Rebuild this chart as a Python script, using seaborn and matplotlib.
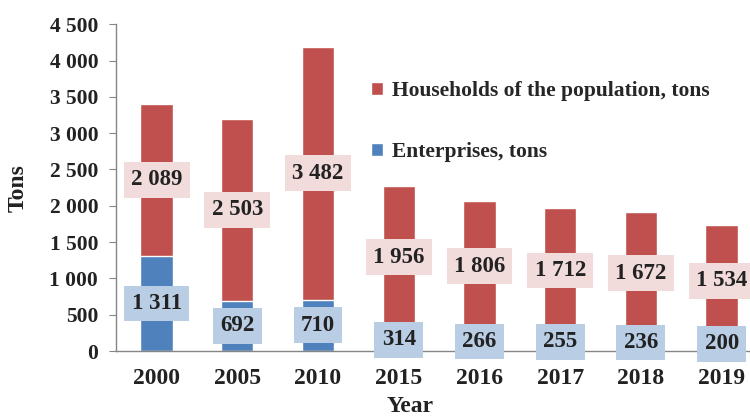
import pandas as pd
import seaborn as sns
import matplotlib.pyplot as plt

# data
years = ['2000', '2005', '2010', '2015', '2016', '2017', '2018', '2019']
enterprises = [1311, 692, 710, 314, 266, 255, 236, 200]
households = [2089, 2503, 3482, 1956, 1806, 1712, 1672, 1534]
yticks = [0, 500, 1000, 1500, 2000, 2500, 3000, 3500, 4000, 4500]

red = '#C0504D'
blue = '#4F81BD'

sns.set_style("white")
plt.rcParams['font.family'] = ['Liberation Serif', 'DejaVu Serif']
plt.rcParams['font.weight'] = 'bold'

df = pd.DataFrame({'Year': years, 'Enterprises': enterprises, 'Households': households})
df['Total'] = df['Enterprises'] + df['Households']

fig = plt.figure(figsize=(7.5, 4.17), dpi=100)
ax = fig.add_axes([0.155, 0.158, 0.861, 0.784])

sns.barplot(data=df, x='Year', y='Total', color=red, width=0.40, saturation=1,
            label='Households of the population, tons', ax=ax)
sns.barplot(data=df, x='Year', y='Enterprises', color=blue, width=0.40, saturation=1,
            label='Enterprises, tons', ax=ax)

def fmt(v):
    return f"{v:,}".replace(',', ' ')

for i, row in df.iterrows():
    ax.text(i, row['Enterprises'] / 2, fmt(row['Enterprises']), ha='center', va='center',
            fontsize=16.5, fontweight='bold', color='#222222',
            bbox=dict(boxstyle='square,pad=0.32', fc='#B9CDE5', ec='none'))
    ax.text(i, row['Enterprises'] + row['Households'] / 2, fmt(row['Households']),
            ha='center', va='center', fontsize=16.5, fontweight='bold', color='#222222',
            bbox=dict(boxstyle='square,pad=0.32', fc='#F2DCDB', ec='none'))

ax.set_ylim(0, 4500)
ax.set_xlim(-0.5, 7.5)
ax.set_yticks(yticks)
ax.set_yticklabels([fmt(v) for v in yticks], fontsize=15.5, fontweight='bold', color='#222222')
ax.tick_params(axis='x', which='major', length=0, labelsize=17, pad=12, colors='#222222')
ax.set_xticks([i + 0.5 for i in range(-1, 8)], minor=True)
ax.tick_params(axis='x', which='minor', length=5, color='#868686', direction='out')
ax.tick_params(axis='y', length=5, color='#868686', direction='out', left=True, pad=8)
for lab in ax.get_xticklabels():
    lab.set_fontweight('bold')

ax.set_ylabel('Tons', fontsize=17, fontweight='bold', color='#222222')
ax.set_xlabel('Year', fontsize=17, fontweight='bold', color='#222222')
ax.yaxis.set_label_coords(-0.135, 0.5)
ax.xaxis.set_label_coords(0.455, -0.136)

sns.despine(ax=ax)
for s in ['left', 'bottom']:
    ax.spines[s].set_color('#868686')
    ax.spines[s].set_linewidth(1)

handles, labels = ax.get_legend_handles_labels()
ax.legend(handles, labels, loc='upper left', bbox_to_anchor=(0.365, 0.885), frameon=False,
          handlelength=0.55, handleheight=0.55, handletextpad=0.4, labelspacing=1.9,
          prop={'size': 15.5, 'weight': 'bold'})

fig.savefig('out.png', dpi=100)
